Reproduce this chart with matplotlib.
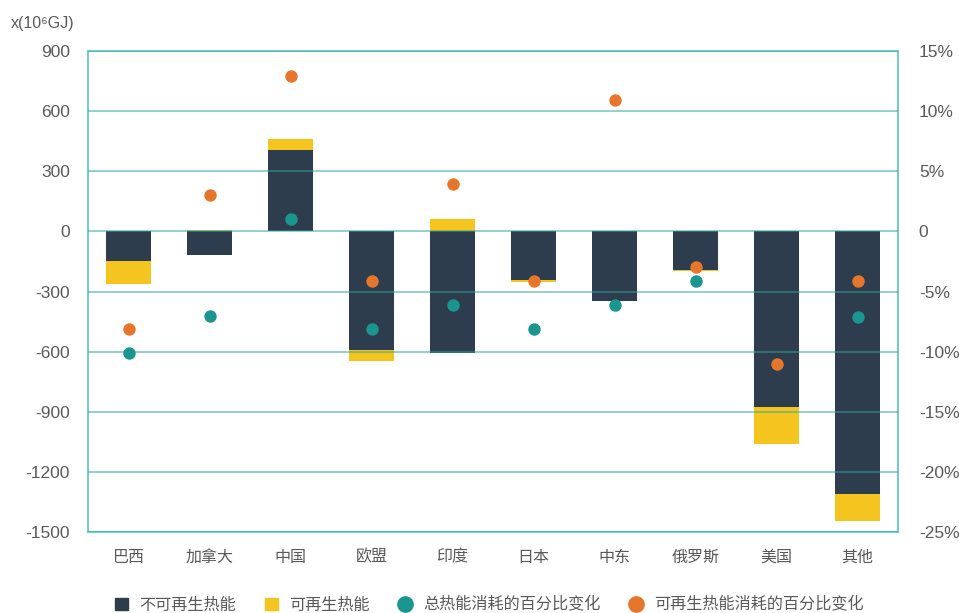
import matplotlib
matplotlib.use("Agg")
import matplotlib.pyplot as plt
from matplotlib.patches import Patch
from matplotlib.lines import Line2D
import numpy as np

plt.rcParams['font.family'] = ['Liberation Sans', 'Noto Sans CJK SC', 'DejaVu Sans']
plt.rcParams['axes.unicode_minus'] = False

# data (10^6 GJ and percent change)
regions = ['巴西', '加拿大', '中国', '欧盟', '印度', '日本', '中东', '俄罗斯', '美国', '其他']
non_renewable = [-150, -118, 405, -590, -605, -245, -345, -193, -875, -1310]
renewable = [-112, 5, 55, -57, 60, -7, -3, -6, -188, -133]
total_pct = [-10.1, -7.0, 1.0, -8.1, -6.1, -8.1, -6.1, -4.1, np.nan, -7.1]
renew_pct = [-8.1, 3.0, 12.9, -4.1, 3.9, -4.1, 10.9, -3.0, -11.0, -4.1]

left_ticks = [900, 600, 300, 0, -300, -600, -900, -1200, -1500]
right_ticks = [15, 10, 5, 0, -5, -10, -15, -20, -25]

navy = '#2E3D4E'
yellow = '#F4C51F'
teal = '#1B9590'
orange = '#E5762B'
grid_c = '#2FA3A0'
text_c = '#595959'
cjk = 'Noto Sans CJK SC'

fig = plt.figure(figsize=(9.59, 6.13), dpi=100)
ax = fig.add_axes([0.0918, 0.1321, 0.8446, 0.7847])

x = np.arange(len(regions))
nr = np.array(non_renewable)
rn = np.array(renewable)
# stack renewable on the end of the non-renewable bar
base = np.where(np.sign(rn) == np.sign(nr), nr, 0)
ax.bar(x, nr, width=0.55, color=navy, zorder=2)
ax.bar(x, rn, width=0.55, bottom=base, color=yellow, zorder=2)

ax.set_xlim(-0.5, len(regions) - 0.5)
ax.set_ylim(-1500, 900)
ax.set_yticks(left_ticks)
ax.set_yticklabels([str(t) for t in left_ticks])
ax.set_xticks(x)
ax.set_xticklabels(regions, family=cjk, fontsize=11.5)
ax.tick_params(length=0, colors=text_c)
ax.tick_params(axis='x', pad=12)
ax.tick_params(axis='y', pad=13, labelsize=12.5)

for yv in left_ticks:
    ax.axhline(yv, color=grid_c, lw=1.3, alpha=0.55, zorder=3)
for s in ax.spines.values():
    s.set_color('#7CCAC7')
    s.set_linewidth(1.5)

ax2 = ax.twinx()
ax2.set_ylim(-25, 15)
ax2.scatter(x, total_pct, s=80, color=teal, zorder=5, linewidths=0)
ax2.scatter(x, renew_pct, s=80, color=orange, zorder=5, linewidths=0)
ax2.set_yticks(right_ticks)
ax2.set_yticklabels([('0' if t == 0 else f'{t}%') for t in right_ticks])
ax2.tick_params(length=0, colors=text_c, labelsize=12.5, pad=15)
for s in ax2.spines.values():
    s.set_visible(False)

fig.text(0.011, 0.962, 'x(10⁶GJ)', fontsize=11.5, color=text_c, ha='left', va='center')

handles = [
    Patch(color=navy, label='不可再生热能'),
    Patch(color=yellow, label='可再生热能'),
    Line2D([], [], ls='', marker='o', ms=11, color=teal, label='总热能消耗的百分比变化'),
    Line2D([], [], ls='', marker='o', ms=11, color=orange, label='可再生热能消耗的百分比变化'),
]
fig.legend(handles=handles, loc='center', bbox_to_anchor=(0.51, 0.013), ncol=4,
           frameon=False, prop={'family': cjk, 'size': 11.6},
           handlelength=0.85, handleheight=0.85,
           handletextpad=0.7, columnspacing=1.75, labelcolor=text_c)

fig.savefig('out.png', dpi=100)
